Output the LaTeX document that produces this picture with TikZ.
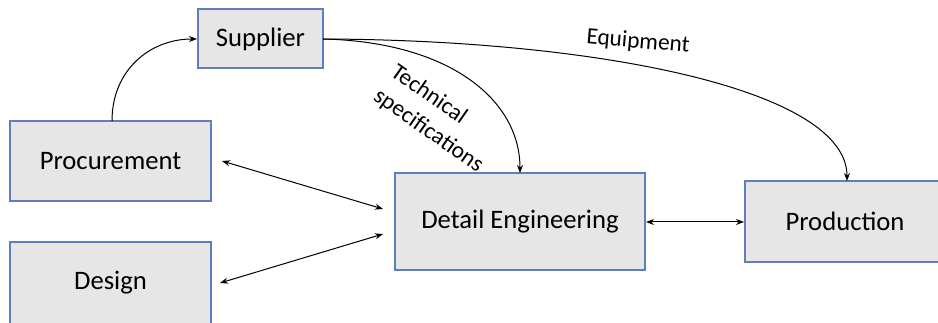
\documentclass[tikz,border=0pt]{standalone}
\usepackage{fontspec}
\setmainfont{Carlito}
\usetikzlibrary{arrows.meta}
\definecolor{boxfill}{HTML}{E6E6E6}
\definecolor{boxline}{HTML}{5E80B8}
\begin{document}
\begin{tikzpicture}[x=0.75pt,y=-0.75pt,
  blk/.style={draw=boxline,line width=0.9pt,fill=boxfill},
  bt/.style={font=\fontsize{20}{23}\selectfont},
  conn/.style={line width=0.75pt,-{Stealth[length=6pt,width=4.5pt]}},
  biconn/.style={line width=0.75pt,{Stealth[length=6pt,width=4.5pt]}-{Stealth[length=6pt,width=4.5pt]}},
  lbl/.style={font=\fontsize{17.5}{22.4}\selectfont,inner sep=0pt}]
\useasboundingbox (0,0) rectangle (938,323);
\begin{scope}
\clip (0,0) rectangle (938,323);
\path[blk] (198,9) rectangle (323,68);
\path[blk] (10,121) rectangle (211,201);
\path[blk] (10,242) rectangle (211,326);
\path[blk] (395,173) rectangle (645,270);
\path[blk] (745,181) rectangle (945,262);
\end{scope}
\node[bt] (sup) at (260.5,39) {Supplier};
\node[bt] (proc) at (110.5,161) {Procurement};
\node[bt] (des) at (110.5,283) {Design};
\node[bt] (de) at (520,222) {Detail Engineering};
\node[bt] (prod) at (845,221.5) {Production};
\coordinate (supL) at (197,39);
\coordinate (supR) at (323,39);
\coordinate (procT) at (112,121);
\coordinate (deT) at (520,173);
\coordinate (prodT) at (847,181);
\coordinate (procE) at (222,161);
\coordinate (desE) at (220,283);
\coordinate (deA) at (383,209);
\coordinate (deB) at (383,234);
\coordinate (deR) at (646,222);
\coordinate (prodL) at (744,222);
\draw[conn] (procT) .. controls (112,70) and (150,39) .. (supL);
\draw[conn] (supR) .. controls (450,42) and (520,100) .. (deT);
\draw[conn] (supR) .. controls (600,40) and (847,90) .. (prodT);
\draw[biconn] (procE) -- (deA);
\draw[biconn] (desE) -- (deB);
\draw[biconn] (deR) -- (prodL);
\node[lbl,rotate=-5] (eq) at (638,42) {Equipment};
\node[lbl,rotate=-35,align=left] (ts) at (437,119) {Technical\\specifications};
\end{tikzpicture}
\end{document}
